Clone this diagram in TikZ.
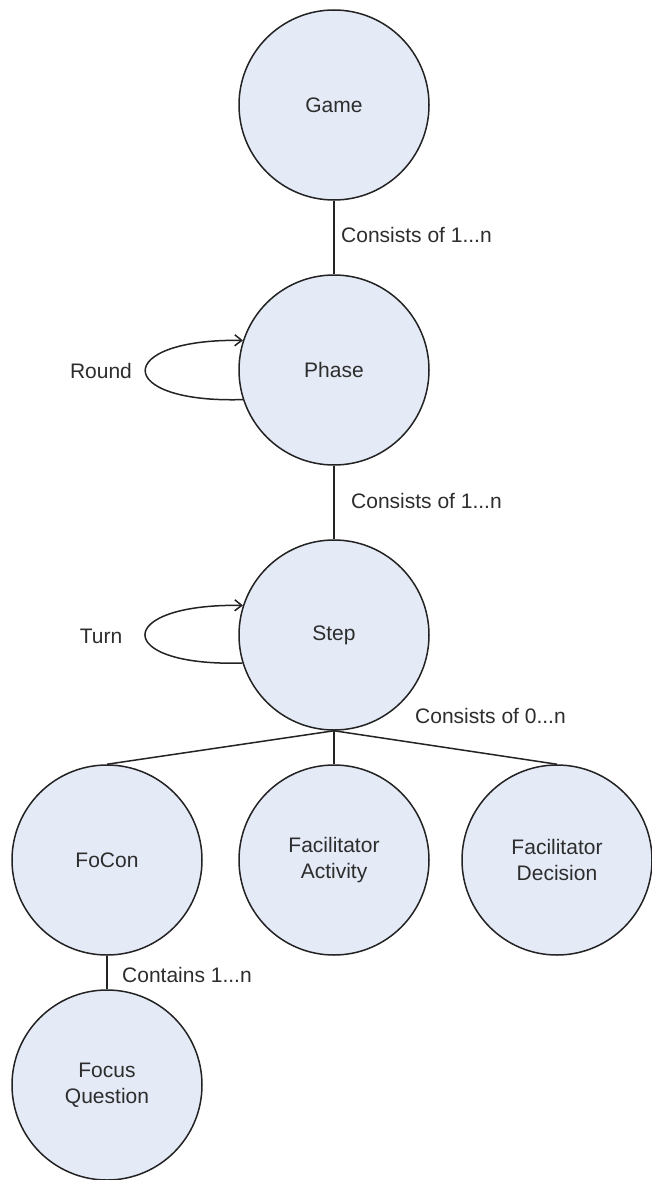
\documentclass[tikz,border=0pt]{standalone}
\usepackage{fontspec}
\setmainfont{Liberation Sans}
\usetikzlibrary{arrows.meta}
\definecolor{nodefill}{RGB}{228,234,246}
\definecolor{inkline}{RGB}{35,35,35}
\definecolor{inktext}{RGB}{45,45,45}
\begin{document}
\begin{tikzpicture}[x=1pt,y=-1pt,
  entity/.style={circle,draw=inkline,fill=nodefill,line width=1.5pt,
    minimum size=190pt,inner sep=0pt,align=center,text=inktext,
    font=\fontsize{21}{26}\selectfont},
  rel/.style={draw=inkline,line width=1.5pt},
  selfloop/.style={rel,-{Straight Barb[length=7pt,width=11pt]}},
  lbl/.style={font=\fontsize{21}{25}\selectfont,text=inktext,inner sep=0pt}]
\useasboundingbox (0,0) rectangle (651,1180);

% entities
\node[entity] (game)   at (334,105)  {Game};
\node[entity] (phase)  at (334,370)  {Phase};
\node[entity] (step)   at (334,635)  {Step};
\node[entity] (focon)  at (107,860)  {FoCon};
\node[entity] (facact) at (334,860)  {Facilitator\\Activity};
\node[entity] (facdec) at (557,860)  {Facilitator\\Decision};
\node[entity] (focusq) at (107,1085) {Focus\\Question};

% composition links
\draw[rel] (game.south) -- (phase.north);
\draw[rel] (phase.south) -- (step.north);
\draw[rel] (step.south) -- (focon.north);
\draw[rel] (step.south) -- (facact.north);
\draw[rel] (step.south) -- (facdec.north);
\draw[rel] (focon.south) -- (focusq.north);

% repetition loops
\draw[selfloop] (phase.198) .. controls +(-130,4) and +(-130,-2) .. (phase.162);
\draw[selfloop] (step.197) .. controls +(-130,4) and +(-130,-2) .. (step.162);

% labels
\node[lbl,anchor=west] (l1) at (341,235) {Consists of 1...n};
\node[lbl,anchor=west] (l2) at (351,501) {Consists of 1...n};
\node[lbl,anchor=west] (l3) at (415,716) {Consists of 0...n};
\node[lbl,anchor=west] (l4) at (122,975) {Contains 1...n};
\node[lbl] (round) at (101,371) {Round};
\node[lbl] (turn)  at (101,636) {Turn};
\end{tikzpicture}
\end{document}
